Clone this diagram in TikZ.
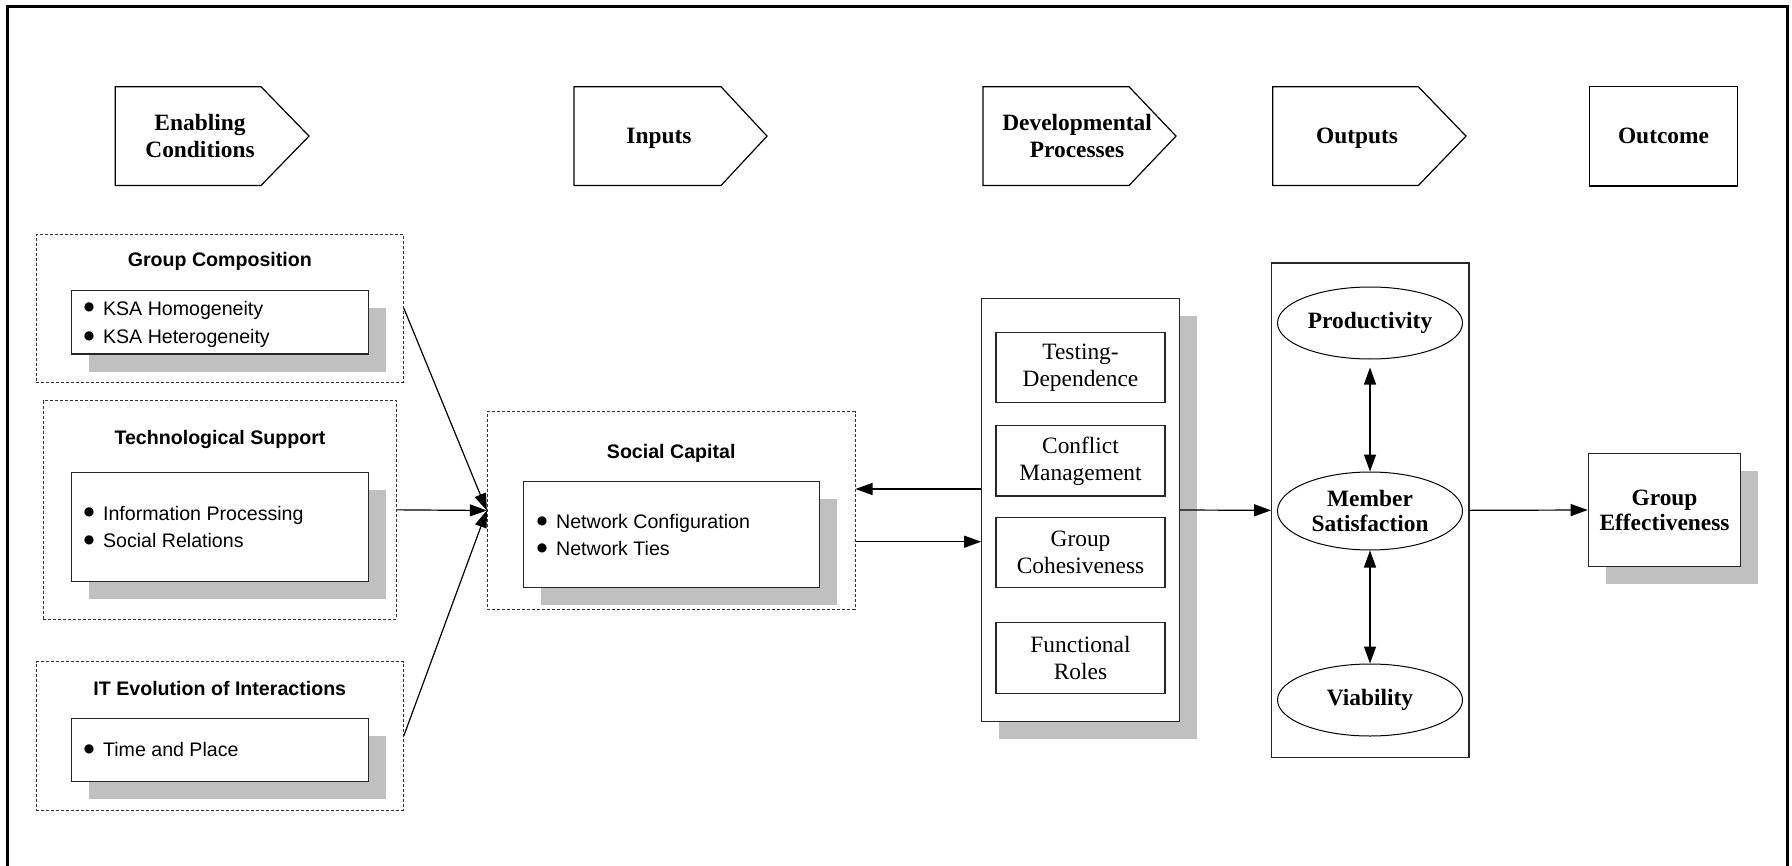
\documentclass[tikz,border=0pt]{standalone}
\usepackage{fontspec}
\setmainfont{Liberation Serif}
\setsansfont{Liberation Sans}
\newfontfamily\djv{DejaVu Sans}
\usetikzlibrary{arrows.meta,shapes.geometric,fit}
\definecolor{shadowgray}{HTML}{C0C0C0}
\newcommand\shbox[6]{%
  \fill[shadowgray] (#2+17.5,#3+17.5) rectangle (#4+17.5,#5+17.5);
  \node[box, fit={(#2,#3)(#4,#5)}, #6] (#1) {};}
\newcommand\bigbul{\makebox[9.6pt][l]{\raisebox{2.1pt}{\djv\fontsize{6}{6}\selectfont ●}}}
\begin{document}
\begin{tikzpicture}[x=0.5pt,y=-0.5pt,
  arr/.style={-{Triangle[length=8.5pt,width=6pt]}, line width=0.6pt},
  darr/.style={{Triangle[length=8.5pt,width=6pt]}-{Triangle[length=8.5pt,width=6pt]}, line width=0.6pt},
  box/.style={draw=black!85, line width=0.6pt, fill=white, inner sep=0pt},
  dbox/.style={draw=black!80, dash pattern=on 1.5pt off 1pt, line width=0.5pt, inner sep=0pt},
  hdrshape/.style={draw, line width=0.6pt},
  hdrtxt/.style={font=\bfseries\fontsize{11.7}{13.3}\selectfont, align=center, inner sep=0pt},
  bold/.style={font=\bfseries\fontsize{11.7}{12.6}\selectfont, align=center},
  reg/.style={font=\fontsize{11.7}{13.5}\selectfont, align=center},
  ttl/.style={font=\sffamily\bfseries\fontsize{9.8}{12}\selectfont, inner sep=0pt, anchor=base},
  bul/.style={font=\sffamily\fontsize{9.8}{12}\selectfont, inner sep=0pt, anchor=base west},
  ell/.style={draw, ellipse, line width=0.5pt, minimum width=92.5pt, inner sep=0pt, bold}
]
\useasboundingbox (0,0) rectangle (1792,866);
% outer frame
\draw[line width=1.1pt] (7.5,870) -- (7.5,6.5) -- (1787.5,6.5) -- (1787.5,870);

% header row
\draw[hdrshape] (115.3,86.7) -- (261,86.7) -- (309,136.1) -- (261,185.5) -- (115.3,185.5) -- cycle;
\node[hdrtxt] (hEC) at (200,136) {Enabling\\Conditions};
\draw[hdrshape] (574,86.7) -- (721,86.7) -- (767,136.1) -- (721,185.5) -- (574,185.5) -- cycle;
\node[hdrtxt, anchor=base] (hIN) at (659,143.5) {Inputs};
\draw[hdrshape] (983,86.7) -- (1129,86.7) -- (1176,136.1) -- (1129,185.5) -- (983,185.5) -- cycle;
\node[hdrtxt] (hDP) at (1077,136) {Developmental\\Processes};
\draw[hdrshape] (1272.7,86.7) -- (1418.3,86.7) -- (1466,136.1) -- (1418.3,185.5) -- (1272.7,185.5) -- cycle;
\node[hdrtxt, anchor=base] (hOP) at (1357,143.5) {Outputs};
\node[draw, line width=0.6pt, fit={(1589.3,86.3)(1737.7,186)}, inner sep=0pt] (hOCbox) {};
\node[hdrtxt, anchor=base] (hOC) at (1663.5,144) {Outcome};

% left column: dashed groups
\node[dbox, fit={(36.3,234.3)(403.3,382)}] (gc) {};
\node[ttl] (gct) at (219.8,266.7) {Group Composition};
\shbox{gci}{71.7}{290.7}{368.3}{354}{}
\node[bul] (gc1) at (83.5,315) {\bigbul KSA Homogeneity};
\node[bul] (gc2) at (83.5,343.3) {\bigbul KSA Heterogeneity};

\node[dbox, fit={(43.3,400.7)(396.7,619)}] (ts) {};
\node[ttl] (tst) at (220,444.7) {Technological Support};
\shbox{tsi}{71.7}{472.3}{368.3}{581.7}{}
\node[bul] (ts1) at (83.5,520) {\bigbul Information Processing};
\node[bul] (ts2) at (83.5,547.7) {\bigbul Social Relations};

\node[dbox, fit={(36.3,661.7)(403.3,810)}] (it) {};
\node[ttl] (itt) at (219.8,695) {IT Evolution of Interactions};
\shbox{iti}{71.7}{718.3}{368.3}{781.7}{}
\node[bul] (it1) at (83.5,756.7) {\bigbul Time and Place};

% social capital
\node[dbox, fit={(487.3,411.7)(855,609.3)}] (sc) {};
\node[ttl] (sct) at (671.2,458.3) {Social Capital};
\shbox{sci}{523.3}{481.7}{819.3}{587.3}{}
\node[bul] (sc1) at (536.5,528.3) {\bigbul Network Configuration};
\node[bul] (sc2) at (536.5,555.7) {\bigbul Network Ties};

% developmental processes
\shbox{dev}{981.7}{298.3}{1179.3}{721.7}{}
\node[box, fit={(996,332.7)(1165,402.7)}] (td) {};
\node[reg] (tdt) at (td.center) {Testing-\\Dependence};
\node[box, fit={(996,425.7)(1165,496)}] (cm) {};
\node[reg] (cmt) at (cm.center) {Conflict\\Management};
\node[box, fit={(996,517.7)(1165,587.7)}] (gco) {};
\node[reg] (gcot) at (gco.center) {Group\\Cohesiveness};
\node[box, fit={(996,622.3)(1165,693.3)}] (fr) {};
\node[reg] (frt) at (fr.center) {Functional\\Roles};

% outputs
\node[box, fit={(1271.7,262.9)(1469,757.8)}] (out) {};
\node[ell, minimum height=36pt] (prod) at (1370,323) {Productivity};
\node[ell, minimum height=39pt] (mem) at (1370,511) {Member\\Satisfaction};
\node[ell, minimum height=36pt] (viab) at (1370,700) {Viability};

% outcome
\shbox{ge}{1588.3}{453.3}{1740.7}{566.7}{}
\node[bold] (get) at (ge.center) {Group\\Effectiveness};

% connectors
\coordinate (yu) at (0,489);
\coordinate (yl) at (0,541.7);
\draw[arr] (gc.east) -- (sc.west);
\draw[arr] (ts.east) -- (sc.west);
\draw[arr] (it.east) -- (sc.west);
\draw[arr] (dev.west |- yu) -- (sc.east |- yu);
\draw[arr] (sc.east |- yl) -- (dev.west |- yl);
\draw[arr] (dev.east) -- (out.west);
\draw[arr] (out.east) -- (ge.west);
\draw[darr, shorten <=4pt] (prod.south) -- (mem.north);
\draw[darr] (mem.south) -- (viab.north);
\end{tikzpicture}
\end{document}
